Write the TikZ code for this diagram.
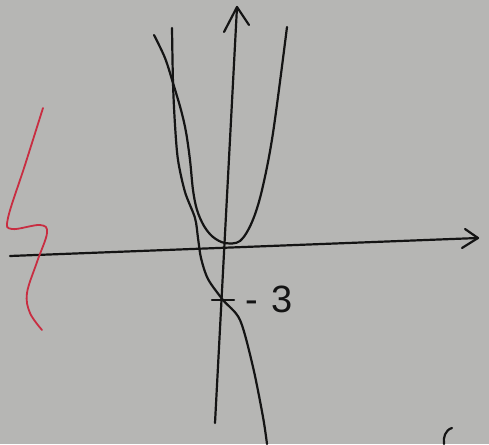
\documentclass[tikz,border=0pt]{standalone}
\usepackage{fontspec}
\setmainfont{Liberation Sans}
\definecolor{paper}{RGB}{182,182,180}
\definecolor{ink}{RGB}{20,20,20}
\definecolor{redink}{RGB}{200,45,65}
\tikzset{
  pen/.style={draw=ink, line width=2.2pt, line cap=round, line join=round},
  redpen/.style={draw=redink, line width=1.8pt, line cap=round, line join=round},
  lbl/.style={text=ink, font=\fontsize{38}{38}\selectfont, inner sep=0pt}
}
\begin{document}
\begin{tikzpicture}[x=1pt,y=-1pt]
\useasboundingbox (0,0) rectangle (489,444);
\fill[paper] (0,0) rectangle (489,444);
% axes
\coordinate (xl) at (10,256);
\coordinate (xr) at (478,238);
\coordinate (yb) at (215,423);
\coordinate (yt) at (237,7);
\draw[pen] (xl) -- (xr);
\draw[pen] (465,229) -- (xr) -- (462,248);
\draw[pen] (yb) -- (yt);
\draw[pen] (224,32) -- (yt) -- (249,25);
% parabola
\draw[pen] plot[smooth, tension=0.55] coordinates {(154,35) (165,58) (173,83) (181,110) (186,132) (190,160) (193,190) (197,210) (204,226) (213,237) (225,243) (240,241) (252,222) (262,190) (273,133) (287,27)};
% steep cubic
\draw[pen] plot[smooth, tension=0.5] coordinates {(172,28) (173,83) (175,125) (178,160) (185,192) (195,218) (198,238) (201,258) (208,279) (223,300) (240,320) (253,367) (263,417) (267,444)};
% tick and label
\coordinate (tk) at (224,300);
\draw[pen] (212,300) -- (234,300);
\node[lbl, anchor=base west] (m3) at (245,312) {-\hspace{14pt}3};
% red squiggle
\draw[redpen] plot[smooth, tension=0.6] coordinates {(43,108) (25,165) (8,218) (12,229) (40,225) (47,233) (37,262) (27,293) (30,313) (42,330)};
% partial mark bottom right
\draw[pen] (452,428) .. controls (445,430) and (443,438) .. (444,444);
\end{tikzpicture}
\end{document}
